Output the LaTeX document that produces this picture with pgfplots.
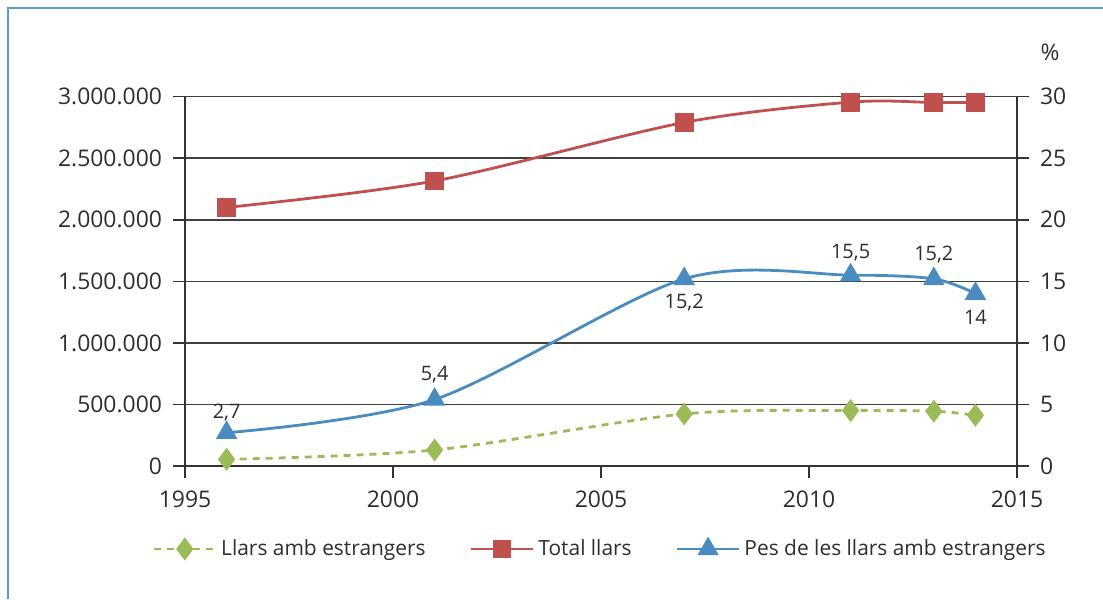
\documentclass[border=0pt]{standalone}
\usepackage{pgfplots}
\pgfplotsset{compat=1.18}
\usepackage{fontspec}
\setmainfont{Open Sans}
\definecolor{cgreen}{RGB}{155,187,89}
\definecolor{cred}{RGB}{192,80,77}
\definecolor{cblue}{RGB}{74,140,192}
\definecolor{ctext}{RGB}{45,45,45}
\definecolor{cframe}{RGB}{91,155,213}
\begin{document}
\begin{tikzpicture}[x=1bp,y=1bp]
\useasboundingbox (-92.5,-66.5) rectangle (459,233);
\draw[cframe, line width=1.2bp] (-88.5,-66.5) -- (-88.5,229) -- (459,229);
\pgfplotsset{
  common/.style={
    at={(0,0)}, anchor=south west, scale only axis,
    width=416bp, height=184.7bp,
    xmin=1995, xmax=2015,
    tick align=outside, major tick length=6bp,
    tick style={black!80, line width=0.8bp},
    axis line style={black!80, line width=0.8bp},
    ticklabel style={font=\fontsize{11.5}{13}\selectfont, text=ctext},
    /pgf/number format/assume math mode=true,
  }
}
\begin{axis}[common,
  ymin=0, ymax=3000000,
  axis x line*=bottom, axis y line*=left,
  xtick={1995,2000,...,2015},
  xticklabel style={/pgf/number format/1000 sep={}, yshift=-3bp},
  ytick={0,500000,...,3000000},
  scaled y ticks=false,
  yticklabel style={/pgf/number format/fixed, /pgf/number format/1000 sep={.}, xshift=-2bp},
  ymajorgrids, grid style={black!75, line width=0.8bp},
]
\addplot[cgreen, line width=1.4bp, dash pattern=on 3.5bp off 3bp, smooth,
  mark=diamond*, mark size=4.6bp, mark options={solid, fill=cgreen}] coordinates {
  (1996,54000) (2001,130000) (2007,423000) (2011,450000) (2013,445000) (2014,412000)
};
\addplot[cred, line width=1.4bp, smooth,
  mark=square*, mark size=4bp, mark options={solid, fill=cred}] coordinates {
  (1996,2100000) (2001,2315000) (2007,2790000) (2011,2955000) (2013,2952000) (2014,2952000)
};
\end{axis}
\begin{axis}[common,
  ymin=0, ymax=30,
  axis y line*=right, axis x line=none,
  ytick={0,5,...,30},
  yticklabel style={xshift=2bp},
  legend style={at={(0.5,-0.2247)}, anchor=center, draw=none, fill=none,
    legend columns=3, font=\fontsize{10.5}{12}\selectfont, text=ctext,
    /tikz/every even column/.append style={column sep=20bp},
    legend cell align=left},
  legend image code/.code={\draw[mark repeat=2,mark phase=2,#1]
     plot coordinates {(0bp,0bp) (15.5bp,0bp) (31bp,0bp)};},
]
\addlegendimage{cgreen, line width=1.4bp, dash pattern=on 3.5bp off 3bp,
  mark=diamond*, mark size=4.6bp, mark options={solid, fill=cgreen}}
\addlegendentry{Llars amb estrangers}
\addlegendimage{cred, line width=1.4bp, mark=square*, mark size=4bp, mark options={solid, fill=cred}}
\addlegendentry{Total llars}
\addplot[cblue, line width=1.4bp, smooth,
  mark=triangle*, mark size=4.8bp, mark options={solid, fill=cblue},
  visualization depends on={\thisrow{dy} \as \dy},
  nodes near coords={\pgfmathprintnumber[fixed, use comma, precision=1]{\pgfplotspointmeta}},
  every node near coord/.append style={anchor=center, yshift=\dy bp,
     font=\fontsize{10}{12}\selectfont, text=ctext, /pgf/number format/assume math mode=true},
] table[x=x, y=y] {
x y dy
1996 2.7 10
2001 5.4 12.5
2007 15.2 -12
2011 15.5 11
2013 15.2 12
2014 14 -12
};
\addlegendentry{Pes de les llars amb estrangers}
\end{axis}
\node[font=\fontsize{11.5}{13}\selectfont, text=ctext] at (432.5,207) {\%};
\end{tikzpicture}
\end{document}
